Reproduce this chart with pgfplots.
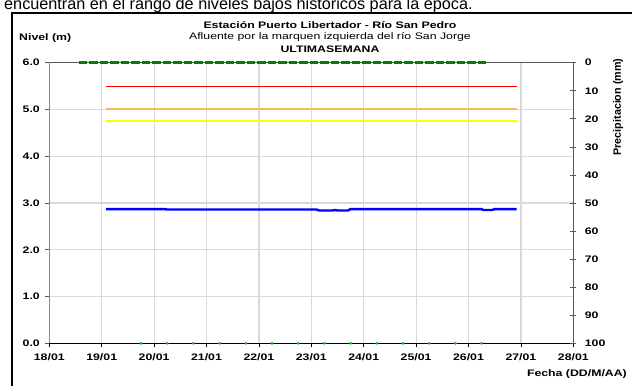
\documentclass[border=0pt]{standalone}
\usepackage{fontspec}
\setmainfont[FakeStretch=1.3]{Liberation Sans}
\newfontfamily\plainfont{Liberation Sans}
\usepackage{pgfplots}
\pgfplotsset{compat=1.18}
\definecolor{lvred}{rgb}{1,0,0}
\definecolor{lvorng}{rgb}{0.94,0.76,0.29}
\definecolor{lvylw}{rgb}{1,1,0}
\definecolor{lvblue}{rgb}{0,0,1}
\definecolor{pgreen}{rgb}{0,0.5,0}
\definecolor{dgreen}{rgb}{0.13,0.67,0.13}
\definecolor{axgray}{rgb}{0.35,0.35,0.35}
\pgfplotsset{base/.style={at={(49.3bp,42.7bp)}, anchor=south west, scale only axis,
  width=524bp, height=280.6bp, xmin=18, xmax=28}}
\begin{document}
\begin{tikzpicture}
\path[use as bounding box, clip] (0bp,0bp) rectangle (632bp,386bp);
\node[anchor=base west, inner sep=0, font=\plainfont\fontsize{16.3}{18}\selectfont] at (4bp,376.5bp) {encuentran en el rango de niveles bajos históricos para la época.};
\draw[line width=2.2bp] (11.7bp,-2bp) -- (11.7bp,373bp) -- (640bp,373bp);
\node[font=\bfseries\fontsize{9.5}{10}\selectfont] at (330bp,361bp) {Estación Puerto Libertador - Río San Pedro};
\node[font=\fontsize{9.5}{10}\selectfont] at (330bp,348.5bp) {Afluente por la marquen izquierda del río San Jorge};
\node[font=\bfseries\fontsize{9.5}{10}\selectfont] at (330bp,336.5bp) {ULTIMASEMANA};
\node[font=\bfseries\fontsize{9.5}{10}\selectfont, anchor=west, inner sep=0] at (19bp,348bp) {Nivel (m)};
\node[font=\bfseries\fontsize{9.5}{10}\selectfont, anchor=east, inner sep=0] at (627bp,12bp) {Fecha (DD/M/AA)};
\node[font=\plainfont\bfseries\fontsize{10.8}{11}\selectfont, rotate=90] at (618bp,279bp) {Precipitacion (mm)};

% grid, ticks and frame
\begin{axis}[base, ymin=0, ymax=6,
  xtick={18,20,...,28},
  xticklabels={18/01,20/01,22/01,24/01,26/01,28/01},
  extra x ticks={19,21,...,27},
  extra x tick labels={19/01,21/01,23/01,25/01,27/01},
  extra x tick style={grid style={color=black!30, line width=0.7bp}},
  ytick={0,1,...,6},
  /pgf/number format/assume math mode=true,
  ticklabel style={font=\bfseries\fontsize{9.5}{10}\selectfont},
  xticklabel style={yshift=-2.5bp},
  yticklabel style={xshift=-2bp, /pgf/number format/.cd, fixed, fixed zerofill, precision=1},
  xtick pos=bottom, ytick pos=left,
  tick align=outside,
  major tick length=4bp,
  x tick style={black, line width=0.7bp},
  y tick style={axgray, line width=0.7bp},
  xmajorgrids, ymajorgrids,
  major grid style={color=black!15, line width=1.2bp},
  axis line style={draw=none},
]
\draw[axgray, line width=1.2bp] (rel axis cs:0,0) -- (rel axis cs:0,1) -- (rel axis cs:1,1);
\draw[black, line width=0.9bp] (rel axis cs:0,0) -- (rel axis cs:1,0);
\end{axis}

% level series
\begin{axis}[base, ymin=0, ymax=6, hide axis, clip=false]
\addplot[draw=lvred, line width=0.9bp] coordinates {(19.08,5.5) (26.92,5.5)};
\addplot[draw=lvorng, line width=2bp] coordinates {(19.08,5.0) (26.92,5.0)};
\addplot[draw=lvylw, line width=1.5bp] coordinates {(19.08,4.75) (26.92,4.75)};
\addplot[draw=lvblue, line width=2.4bp] coordinates {
(19.08,2.87) (20.20,2.87) (20.25,2.86) (23.10,2.86) (23.15,2.84) (23.40,2.84)
(23.45,2.85) (23.50,2.84) (23.70,2.84) (23.75,2.87) (26.25,2.87) (26.28,2.85)
(26.45,2.85) (26.50,2.87) (26.92,2.87)};
\addplot[only marks, mark=*, mark size=1.2bp, draw=dgreen, fill=dgreen] coordinates {
(19.75,0) (20.25,0) (20.75,0) (21.25,0) (21.75,0) (22.25,0) (22.75,0)
(23.25,0) (23.75,0) (24.25,0) (24.75,0) (25.25,0) (25.75,0) (26.25,0)};
\end{axis}

% precipitation axis
\begin{axis}[base, ymin=0, ymax=100, y dir=reverse,
  clip=false,
  xtick=\empty,
  ytick={0,10,...,100},
  ytick pos=right,
  /pgf/number format/assume math mode=true,
  ticklabel style={font=\bfseries\fontsize{9.5}{10}\selectfont},
  yticklabel style={xshift=5bp},
  tick align=center,
  major tick length=6bp,
  y tick style={axgray, line width=0.7bp},
  axis line style={draw=none},
]
\draw[axgray, line width=1.5bp] (rel axis cs:1,0) -- (rel axis cs:1,1);
\addplot[draw=pgreen, line width=2.6bp, dash pattern=on 8.5bp off 2bp] coordinates {(18.56,0) (26.35,0)};
\end{axis}
\end{tikzpicture}
\end{document}
